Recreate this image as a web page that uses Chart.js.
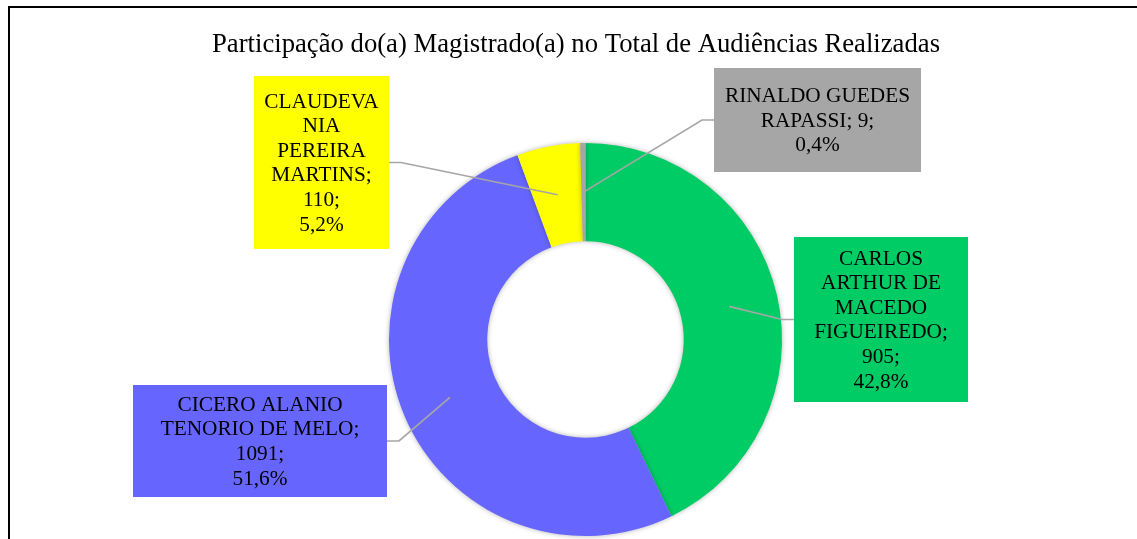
<!DOCTYPE html>
<html>
<head>
<meta charset="utf-8">
<script src="https://cdn.jsdelivr.net/npm/chart.js@4.4.1/dist/chart.umd.min.js"></script>
<style>
  html, body { margin: 0; padding: 0; background: #fff; }
  #wrap { width: 1137px; height: 539px; }
</style>
</head>
<body>
<div id="wrap"><canvas id="myChart" width="1137" height="539"></canvas></div>
<script>
const chartTitle = "Participação do(a) Magistrado(a) no Total de Audiências Realizadas";
const magistrados = [
  "CARLOS ARTHUR DE MACEDO FIGUEIREDO",
  "CICERO ALANIO TENORIO DE MELO",
  "CLAUDEVANIA PEREIRA MARTINS",
  "RINALDO GUEDES RAPASSI",
];
const audiencias = [905, 1091, 110, 9];
const cores = ["#00CC66", "#6666FF", "#FFFF00", "#A6A6A6"];

// caixas dos rótulos (layout apenas)
const caixas = [
  { x: 794, y: 237, w: 174, h: 165, lado: "left" },
  { x: 133, y: 385, w: 254, h: 112, lado: "right" },
  { x: 254, y: 76, w: 135, h: 173, lado: "right" },
  { x: 714, y: 68, w: 207, h: 104, lado: "left" },
];

const total = audiencias.reduce((a, b) => a + b, 0);
const fmtPct = (v) => ((v / total) * 100).toFixed(1).replace(".", ",") + "%";

const wrapText = (ctx, text, maxW) => {
  const words = text.split(" ");
  const lines = [];
  let cur = "";
  words.forEach((w) => {
    const test = cur ? cur + " " + w : w;
    if (ctx.measureText(test).width <= maxW) {
      cur = test;
      return;
    }
    if (cur) lines.push(cur);
    cur = "";
    // quebra palavra longa
    let part = "";
    for (const ch of w) {
      if (ctx.measureText(part + ch).width > maxW && part) {
        lines.push(part);
        part = ch;
      } else {
        part += ch;
      }
    }
    cur = part;
  });
  if (cur) lines.push(cur);
  return lines;
};

const rotulosPlugin = {
  id: "rotulos",
  beforeDatasetsDraw(chart) {
    const ctx = chart.ctx;
    ctx.save();
    ctx.shadowColor = "rgba(0,0,0,0.30)";
    ctx.shadowBlur = 5;
  },
  afterDatasetsDraw(chart) {
    chart.ctx.restore();
  },
  afterDraw(chart) {
    const ctx = chart.ctx;
    ctx.save();
    // moldura
    ctx.strokeStyle = "#000";
    ctx.lineWidth = 2;
    ctx.beginPath();
    ctx.moveTo(9, 539);
    ctx.lineTo(9, 7);
    ctx.lineTo(1137, 7);
    ctx.stroke();

    // título
    ctx.fillStyle = "#000";
    ctx.font = "26.7px 'Liberation Serif'";
    ctx.textAlign = "center";
    ctx.textBaseline = "middle";
    ctx.fillText(chartTitle, 576, 45);

    const meta = chart.getDatasetMeta(0);
    ctx.font = "21.3px 'Liberation Serif'";
    meta.data.forEach((arc, i) => {
      const b = caixas[i];
      const p = arc.tooltipPosition();
      const cy = b.y + b.h / 2;
      const ex = b.lado === "left" ? b.x : b.x + b.w;
      const bx = b.lado === "left" ? ex - 12 : ex + 12;
      ctx.strokeStyle = "#A6A6A6";
      ctx.lineWidth = 1.7;
      ctx.beginPath();
      ctx.moveTo(ex, cy);
      ctx.lineTo(bx, cy);
      ctx.lineTo(p.x, p.y);
      ctx.stroke();

      ctx.fillStyle = cores[i];
      ctx.fillRect(b.x, b.y, b.w, b.h);

      const texto = magistrados[i] + "; " + audiencias[i] + ";";
      const lines = wrapText(ctx, texto, b.w - 12);
      lines.push(fmtPct(audiencias[i]));
      const lh = 24.6;
      const y0 = cy - ((lines.length - 1) * lh) / 2 + 1;
      ctx.fillStyle = "#000";
      lines.forEach((ln, k) => ctx.fillText(ln, b.x + b.w / 2, y0 + k * lh));
    });
    ctx.restore();
  },
};

const data = {
  labels: magistrados,
  datasets: [
    {
      data: audiencias,
      backgroundColor: cores,
      borderWidth: 0,
      hoverOffset: 0,
    },
  ],
};

const configChart = {
  type: "doughnut",
  data: data,
  options: {
    responsive: false,
    animation: false,
    cutout: "50%",
    layout: { padding: { top: 143, bottom: 3, left: 34, right: 0 } },
    plugins: {
      legend: { display: false },
      tooltip: { enabled: false },
      title: { display: false },
    },
  },
  plugins: [rotulosPlugin],
};

const myChart = new Chart(document.querySelector("#myChart"), configChart);
</script>
</body>
</html>
